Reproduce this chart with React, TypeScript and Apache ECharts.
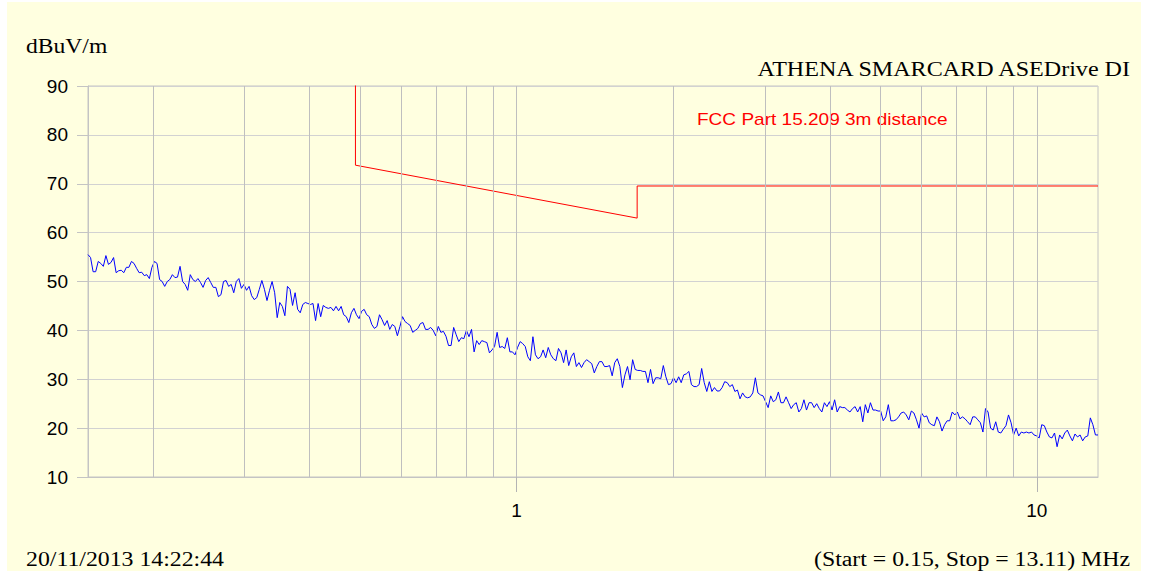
import React, { useEffect, useRef } from "react";
import * as echarts from "echarts";

// ---- data ----
const SWEEP_START = 0.15;
const SWEEP_STOP = 13.11;

const TRACE_DB = [
  // 0.15 .. ~0.35 MHz
  55.5, 54.9, 52.0, 52.0, 54.1, 53.7, 53.1, 55.3, 53.5, 53.9, 54.9, 51.8, 52.2, 52.3, 51.8, 52.9, 52.9, 54.1, 53.7, 52.7,
  51.8, 51.9, 51.2, 51.4, 50.6, 52.9, 54.1, 53.7, 50.4, 50.0, 49.0, 50.0, 50.4, 51.4, 50.8, 50.9, 53.1, 50.0, 49.4, 48.2,
  51.4, 50.4, 50.0, 50.6, 49.8, 48.8, 50.2, 50.8, 49.8, 48.8, 48.8, 46.9, 47.3, 50.0, 50.2, 49.0, 49.4, 47.7, 50.0, 50.6,
  48.6, 49.4, 48.2, 49.0, 47.1, 46.3, 46.7, 48.4, 50.2, 48.4, 46.1, 48.2, 50.0, 47.7, 42.6,
  // ~0.36 .. 0.6 MHz
  45.7, 44.9, 43.0, 49.0, 48.4, 45.1, 47.7, 44.3, 43.6, 45.3, 45.7, 45.5, 45.3, 45.5, 42.0, 45.5, 42.8, 45.1, 44.7, 44.5,
  44.7, 44.0, 44.9, 44.0, 44.9, 43.2, 42.8, 41.6, 43.6, 44.5, 43.2, 42.4, 43.9, 44.3, 43.2, 42.8, 41.2,
  // ~0.6 .. 1.4 MHz
  40.4, 40.8, 43.2, 42.2, 41.0, 42.0, 40.2, 41.2, 40.8, 38.9, 40.8, 42.8, 41.8, 41.4, 41.0, 39.6, 40.0, 40.4, 41.4, 41.6,
  40.2, 40.2, 40.6, 40.0, 38.9, 40.8, 39.6, 39.8, 38.8, 36.9, 36.9, 40.6, 39.1, 37.7, 38.5, 38.3, 40.0, 38.7, 40.2, 35.6,
  37.9, 37.1, 37.9, 37.7, 37.5, 35.4, 36.0, 36.7, 39.6, 36.5, 36.7, 36.3, 38.5, 35.6, 35.6, 35.0, 36.5, 37.7, 37.3, 36.7,
  34.6, 33.8, 38.7, 35.0, 34.2, 34.6, 36.0, 34.4, 36.5, 35.0, 34.2, 33.8, 36.3, 35.4, 33.4, 36.0, 32.8, 34.6, 35.4,
  // ~1.4 .. 3.3 MHz
  32.6, 33.4, 32.4, 33.4, 34.0, 33.6, 33.2, 31.3, 32.6, 33.6, 33.6, 32.6, 32.6, 32.8, 30.7, 33.4, 34.2, 32.6, 28.3, 30.9,
  32.6, 29.9, 34.0, 32.0, 31.8, 31.8, 31.6, 31.6, 29.3, 32.0, 29.1, 30.3, 30.3, 30.1, 32.8, 30.5, 28.9, 29.1, 30.3, 29.3,
  30.5, 29.3, 30.9, 31.1, 31.6, 28.9, 28.5, 28.5, 28.9, 32.2, 29.3, 27.5, 29.5, 27.5, 28.3, 27.6, 27.6, 28.3, 29.5, 29.3,
  28.5, 28.9, 27.5, 27.8, 26.0, 27.2, 26.4, 26.2, 26.4, 27.2, 30.3, 27.2, 26.8, 26.6, 25.4, 24.2, 26.6, 25.4, 25.8,
  // ~3.3 .. 7.6 MHz
  27.4, 25.2, 25.2, 26.4, 25.2, 24.0, 24.8, 25.2, 23.3, 24.0, 25.8, 23.7, 25.2, 25.2, 24.2, 25.0, 24.0, 23.3, 25.2, 24.4,
  25.4, 23.7, 25.8, 23.3, 24.4, 24.2, 24.2, 23.7, 23.3, 24.0, 24.4, 23.3, 24.4, 21.3, 24.8, 23.1, 25.2, 23.7, 23.7, 23.5,
  23.5, 21.5, 22.3, 24.8, 21.5, 21.5, 21.7, 22.3, 23.1, 23.3, 22.7, 21.7, 23.5, 23.1, 21.7, 20.0, 23.1, 22.3, 22.5, 21.1,
  20.7, 20.5, 22.3, 21.3, 19.4, 20.7, 21.5, 21.5, 23.3, 22.7, 23.3, 21.9, 22.3, 21.9, 21.3, 20.7, 22.3, 22.3, 21.7,
  // ~7.6 .. 13.11 MHz
  21.1, 19.2, 24.0, 23.3, 20.0, 19.6, 21.3, 19.2, 19.0, 19.8, 20.5, 22.7, 21.1, 18.6, 20.0, 18.4, 19.2, 19.0, 19.2, 19.0,
  19.2, 18.6, 18.4, 18.0, 20.7, 20.5, 19.2, 18.2, 18.0, 19.0, 16.2, 18.6, 17.8, 19.0, 19.6, 18.4, 17.4, 18.8, 18.2, 18.6,
  17.4, 18.2, 18.4, 22.1, 20.7, 18.6, 18.6,
];

// sweep points of the receiver, logarithmically spaced from start to stop
const TRACE_FREQ = TRACE_DB.map(
  (_, i) => SWEEP_START * Math.pow(SWEEP_STOP / SWEEP_START, i / (TRACE_DB.length - 1))
);

const LIMIT_FREQ = [0.49, 0.49, 1.705, 1.705, 13.11];
const LIMIT_DB = [93.8, 73.8, 62.97, 69.54, 69.54];

const GRID_FREQS = [0.2, 0.3, 0.4, 0.5, 0.6, 0.7, 0.8, 0.9, 1, 2, 3, 4, 5, 6, 7, 8, 9, 10];
const X_LABELS = [1, 10];
const Y_MIN = 10;
const Y_MAX = 90;
const Y_STEP = 10;

const UNIT_LABEL = "dBuV/m";
const TITLE = "ATHENA SMARCARD ASEDrive DI";
const DATE_TEXT = "20/11/2013 14:22:44";
const SWEEP_TEXT = "(Start = 0.15, Stop = 13.11) MHz";
const LIMIT_NAME = "FCC Part 15.209 3m distance";

const SERIF = "'Liberation Serif', 'Times New Roman', serif";
const SANS = "'Liberation Sans', Arial, sans-serif";

export default function App() {
  const ref = useRef<HTMLDivElement>(null);

  useEffect(() => {
    if (!ref.current) return;
    const chart = echarts.init(ref.current, undefined, { renderer: "svg" });

    const trace = TRACE_FREQ.map((f, i) => [f, TRACE_DB[i]]);
    const limit = LIMIT_FREQ.map((f, i) => [f, LIMIT_DB[i]]);

    const serifText = (text: string, x: number, y: number, align: string, sx: number) => ({
      type: "text",
      x,
      y,
      scaleX: sx,
      silent: true,
      style: {
        text,
        fill: "#000000",
        font: `20px ${SERIF}`,
        align,
        verticalAlign: "middle",
      },
    });

    chart.setOption({
      animation: false,
      backgroundColor: "#ffffe0",
      grid: {
        left: 81,
        top: 84,
        width: 1010,
        height: 391,
        show: true,
        borderColor: "#c4c4c4",
        borderWidth: 1,
        backgroundColor: "transparent",
      },
      xAxis: {
        type: "log",
        logBase: 10,
        min: SWEEP_START,
        max: SWEEP_STOP,
        axisLine: { show: true, lineStyle: { color: "#c4c4c4", width: 1 } },
        axisTick: {
          show: true,
          customValues: X_LABELS,
          length: 15,
          lineStyle: { color: "#b4b4b4", width: 1 },
        },
        axisLabel: {
          customValues: X_LABELS,
          color: "#000000",
          fontFamily: SANS,
          fontSize: 19,
          margin: 24,
          formatter: (v: number) => String(v),
        },
        splitLine: { show: false },
      },
      yAxis: {
        type: "value",
        min: Y_MIN,
        max: Y_MAX,
        interval: Y_STEP,
        axisLine: { show: true, lineStyle: { color: "#c4c4c4", width: 1 } },
        axisTick: { show: true, length: 11, lineStyle: { color: "#c4c4c4", width: 1 } },
        axisLabel: {
          color: "#000000",
          fontFamily: SANS,
          fontSize: 19,
          margin: 20,
        },
        splitLine: { show: true, lineStyle: { color: "#d2d2d2", width: 1 } },
      },
      graphic: [
        serifText(UNIT_LABEL, 19, 45, "left", 1.18),
        serifText(TITLE, 1123, 67, "right", 1.205),
        serifText(DATE_TEXT, 19, 557, "left", 1.19),
        serifText(SWEEP_TEXT, 1123, 557, "right", 1.19),
        {
          type: "text",
          x: 690,
          y: 117,
          scaleX: 1.12,
          silent: true,
          style: {
            text: LIMIT_NAME,
            fill: "#ff0000",
            font: `17px ${SANS}`,
            align: "left",
            verticalAlign: "middle",
          },
        },
      ],
      series: [
        {
          name: "grid",
          type: "line",
          data: [],
          z: 1,
          silent: true,
          markLine: {
            silent: true,
            symbol: "none",
            label: { show: false },
            lineStyle: { color: "#bfbfbf", type: "solid", width: 1 },
            emphasis: { disabled: true },
            data: GRID_FREQS.map((f) => ({ xAxis: f })),
          },
        },
        {
          name: "Trace",
          type: "line",
          data: trace,
          z: 3,
          showSymbol: false,
          symbol: "none",
          silent: true,
          lineStyle: { color: "#0000ff", width: 1 },
          itemStyle: { color: "#0000ff" },
        },
        {
          name: LIMIT_NAME,
          type: "line",
          data: limit,
          z: 4,
          showSymbol: false,
          symbol: "none",
          clip: true,
          silent: true,
          lineStyle: { color: "#ff0000", width: 1 },
          itemStyle: { color: "#ff0000" },
        },
      ],
    });

    return () => chart.dispose();
  }, []);

  return (
    <div
      ref={ref}
      style={{ position: "absolute", left: 7, top: 2, width: 1134, height: 569 }}
    />
  );
}
